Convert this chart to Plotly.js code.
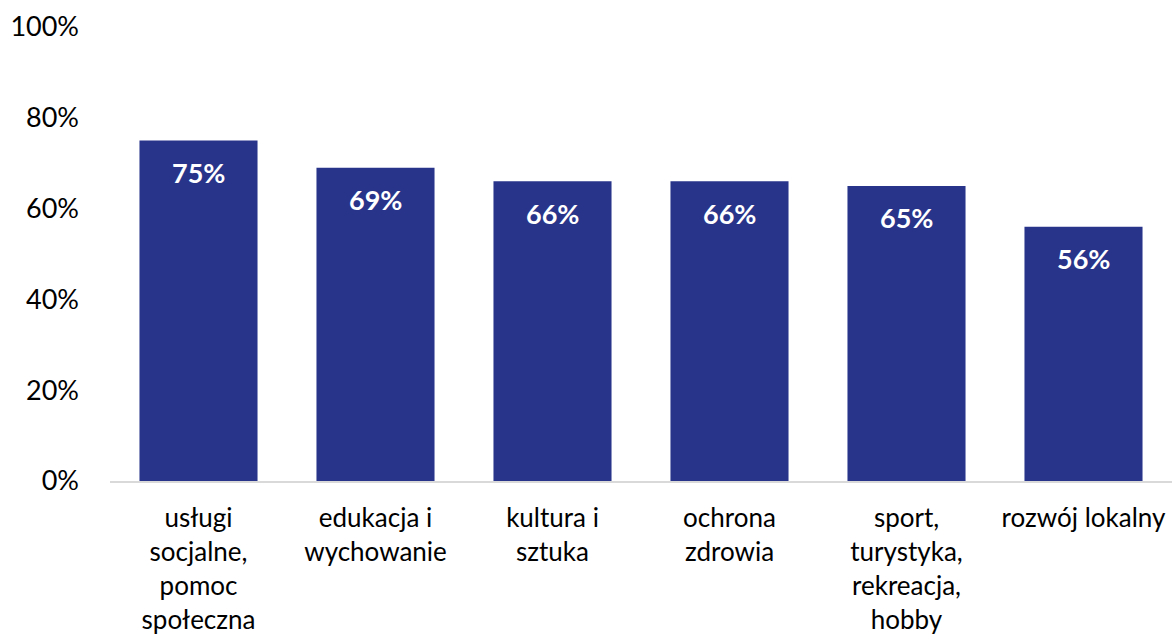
<!DOCTYPE html>
<html>
<head>
<meta charset="utf-8">
<script src="https://cdn.plot.ly/plotly-3.0.1.min.js"></script>
<style>html,body{margin:0;padding:0;background:#fff;}#chart{width:1173px;height:639px;}</style>
</head>
<body>
<div id="chart"></div>
<script>
const categories = ["usługi<br>socjalne,<br>pomoc<br>społeczna", "edukacja i<br>wychowanie", "kultura i<br>sztuka", "ochrona<br>zdrowia", "sport,<br>turystyka,<br>rekreacja,<br>hobby", "rozwój lokalny"];
const values = [75, 69, 66, 66, 65, 56];
const valueLabels = ["75%", "69%", "66%", "66%", "65%", "56%"];
const yTickVals = [0, 20, 40, 60, 80, 100];
const yTickText = ["0%", "20%", "40%", "60%", "80%", "100%"];

const FONT = "Lato, 'Open Sans', sans-serif";

const trace = {
  type: "bar",
  x: categories,
  y: values,
  marker: {color: "#28348A"},
  hoverinfo: "none"
};

const annotations = categories.map((c, i) => ({
  x: c, y: values[i], xref: "x", yref: "y",
  text: "<b>" + valueLabels[i] + "</b>",
  showarrow: false, yanchor: "middle", yshift: -32,
  font: {family: FONT, size: 27, color: "#ffffff"}
}));

const layout = {
  width: 1173, height: 639,
  margin: {l: 110, r: 1, t: 27, b: 158},
  paper_bgcolor: "#ffffff", plot_bgcolor: "#ffffff",
  showlegend: false,
  bargap: 0.333,
  font: {family: FONT, size: 26, color: "#000000"},
  xaxis: {
    type: "category",
    showline: true, linecolor: "#d9d9d9", linewidth: 2,
    showgrid: false, ticks: "", zeroline: false,
    tickfont: {family: FONT, size: 26, color: "#000000"},
    ticklabelstandoff: 13
  },
  yaxis: {
    range: [0, 100],
    tickvals: yTickVals, ticktext: yTickText,
    showgrid: false, zeroline: false, showline: false, ticks: "",
    tickfont: {family: FONT, size: 27, color: "#000000"},
    ticklabelstandoff: 30
  },
  annotations: annotations
};

Plotly.newPlot("chart", [trace], layout, {staticPlot: true, displayModeBar: false});
</script>
</body>
</html>
